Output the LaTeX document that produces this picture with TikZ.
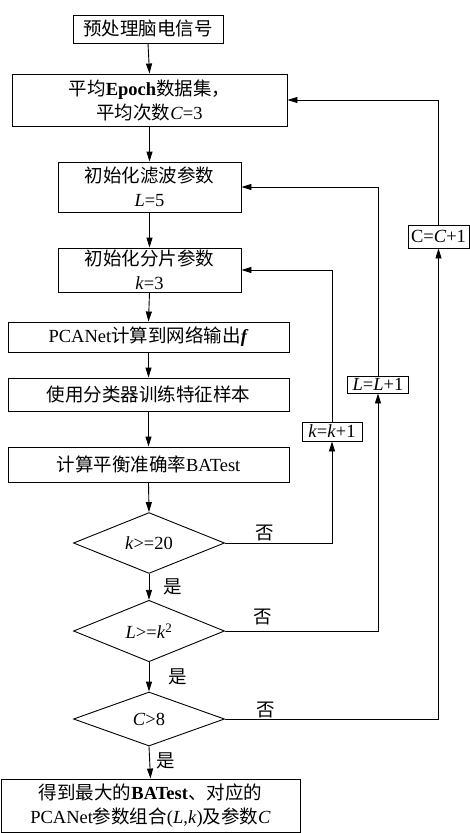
\documentclass[tikz,border=0pt]{standalone}
\usepackage{fontspec}
\setmainfont{Liberation Serif}
\newfontfamily\cjk{Noto Sans CJK SC}
\usetikzlibrary{shapes.geometric,arrows.meta}

\newcommand{\zh}[1]{{\cjk #1}}

\begin{document}
\begin{tikzpicture}[x=1pt,y=-1pt,
  line width=0.9pt,
  font=\fontsize{18.5}{24}\selectfont,
  proc/.style={draw, rectangle, inner sep=0pt, align=center},
  decision/.style={draw, diamond, inner sep=0pt, minimum width=151pt},
  conn/.style={-{Triangle[length=10pt,width=6pt]}},
  lab/.style={inner sep=0pt}]
\useasboundingbox (0,0) rectangle (470,833);

% main column
\node[proc, minimum width=150pt, minimum height=28pt] (b1) at (148,29) {\zh{预处理脑电信号}};
\node[proc, minimum width=275pt, minimum height=52pt] (b2) at (149.5,100)
  {\zh{平均}\textbf{Epoch}\zh{数据集，}\\\zh{平均次数}\textit{C}=3};
\node[proc, minimum width=183pt, minimum height=50pt] (b3) at (149.5,187)
  {\zh{初始化滤波参数}\\\textit{L}=5};
\node[proc, minimum width=183pt, minimum height=44pt] (b4) at (149.5,270)
  {\zh{初始化分片参数}\\\textit{k}=3};
\node[proc, minimum width=281pt, minimum height=30pt] (b5) at (148.5,337)
  {PCANet\zh{计算到网络输出}\textbf{\textit{f}}};
\node[proc, minimum width=281pt, minimum height=33pt] (b6) at (148.5,394.5)
  {\zh{使用分类器训练特征样本}};
\node[proc, minimum width=281pt, minimum height=35pt] (b7) at (148.5,464.5)
  {\zh{计算平衡准确率}BATest};
\node[decision, minimum height=59pt] (d1) at (149,543) {\textit{k}>=20};
\node[decision, minimum height=56pt] (d2) at (149,631) {\textit{L}>=\textit{k}\textsuperscript{2}};
\node[decision, minimum height=54pt] (d3) at (149,719) {\textit{C}>8};
\node[proc, minimum width=299pt, minimum height=53pt] (b8) at (150.5,805.5)
  {\zh{得到最大的}\textbf{BATest}\zh{、对应的}\\PCANet\zh{参数组合}(\textit{L},\textit{k})\zh{及参数}\textit{C}};

% counter updates
\node[proc, minimum width=60pt, minimum height=19pt] (kb) at (332,431.5) {\textit{k}=\textit{k}+1};
\node[proc, minimum width=61pt, minimum height=17pt] (lb) at (378,384.5) {\textit{L}=\textit{L}+1};
\node[proc, minimum width=61pt, minimum height=23pt] (cb) at (438.5,236.5) {C=\textit{C}+1};

% forward flow
\draw[conn] (b1.south) -- (b2.north);
\draw[conn] (b2.south) -- (b3.north);
\draw[conn] (b3.south) -- (b4.north);
\draw[conn] (b4.south) -- (b5.north);
\draw[conn] (b5.south) -- (b6.north);
\draw[conn] (b6.south) -- (b7.north);
\draw[conn] (b7.south) -- (d1.north);
\draw[conn] (d1.south) -- (d2.north);
\draw[conn] (d2.south) -- (d3.north);
\draw[conn] (d3.south) -- (b8.north);

% loops
\draw[conn] (d1.east) -| (kb.south);
\draw[conn] (kb.north) |- (b4.east);
\draw[conn] (d2.east) -| (lb.south);
\draw[conn] (lb.north) |- (b3.east);
\draw[conn] (d3.east) -| (cb.south);
\draw[conn] (cb.north) |- (b2.east);

% branch labels
\node[lab] (n1) at (265,533) {\zh{否}};
\node[lab] (n2) at (263,617) {\zh{否}};
\node[lab] (n3) at (266,710) {\zh{否}};
\node[lab] (y1) at (173,587) {\zh{是}};
\node[lab] (y2) at (178,677) {\zh{是}};
\node[lab] (y3) at (166,761) {\zh{是}};
\end{tikzpicture}
\end{document}
